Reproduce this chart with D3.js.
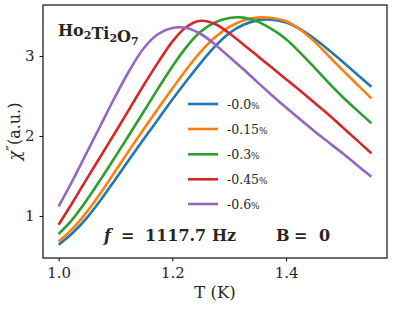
<!DOCTYPE html>
<html>
<head>
<meta charset="utf-8">
<script src="https://cdn.jsdelivr.net/npm/d3@7"></script>
<style>
  body { margin: 0; background: #fff; }
  svg text { font-family: "DejaVu Serif", "Liberation Serif", serif; fill: #262626; }
</style>
</head>
<body>
<div id="chart"></div>
<script>
// temperature grid (K)
const temps = [1.000, 1.025, 1.050, 1.075, 1.100, 1.125, 1.150, 1.175, 1.200, 1.225, 1.250, 1.275,
  1.300, 1.325, 1.350, 1.375, 1.400, 1.425, 1.450, 1.475, 1.500, 1.525, 1.550];

const strainLabels = ["-0.0", "-0.15", "-0.3", "-0.45", "-0.6"];
const colors = ["#1f77b4", "#ff7f0e", "#2ca02c", "#d62728", "#9467bd"];

// chi'' (a.u.)
const chi00 = [0.64, 0.79, 0.98, 1.21, 1.46, 1.715, 1.965, 2.21, 2.455, 2.69, 2.915, 3.12,
  3.285, 3.39, 3.445, 3.455, 3.42, 3.335, 3.215, 3.075, 2.925, 2.77, 2.615];
const chi15 = [0.68, 0.845, 1.055, 1.30, 1.565, 1.83, 2.09, 2.345, 2.595, 2.835, 3.055, 3.235,
  3.365, 3.445, 3.48, 3.475, 3.435, 3.33, 3.18, 3.00, 2.82, 2.645, 2.47];
const chi30 = [0.775, 0.965, 1.205, 1.47, 1.745, 2.025, 2.31, 2.595, 2.87, 3.115, 3.305, 3.42,
  3.475, 3.48, 3.43, 3.335, 3.21, 3.04, 2.855, 2.665, 2.485, 2.32, 2.16];
const chi45 = [0.89, 1.175, 1.47, 1.76, 2.05, 2.345, 2.64, 2.92, 3.18, 3.365, 3.44, 3.40,
  3.285, 3.145, 3.00, 2.855, 2.71, 2.565, 2.415, 2.265, 2.105, 1.945, 1.785];
const chi60 = [1.12, 1.45, 1.80, 2.15, 2.50, 2.825, 3.10, 3.275, 3.35, 3.35, 3.275, 3.145,
  2.99, 2.835, 2.67, 2.51, 2.355, 2.205, 2.06, 1.92, 1.78, 1.635, 1.49];

const xTicks = [1.0, 1.2, 1.4];
const yTicks = [1, 2, 3];

const series = [chi00, chi15, chi30, chi45, chi60];

const width = 394;
const height = 310;
const margin = { top: 5, right: 7, bottom: 52, left: 43 };

const svg = d3.select("#chart")
  .append("svg")
  .attr("width", width)
  .attr("height", height);

const x = d3.scaleLinear()
  .domain([0.9725, 1.5775])
  .range([margin.left, width - margin.right]);

const y = d3.scaleLinear()
  .domain([0.475, 3.6375])
  .range([height - margin.bottom, margin.top]);

const line = d3.line()
  .x(d => x(d[0]))
  .y(d => y(d[1]))
  .curve(d3.curveCatmullRom);

// curves
svg.append("g")
  .selectAll("path")
  .data(series)
  .enter()
  .append("path")
  .attr("d", s => line(temps.map((t, i) => [t, s[i]])))
  .attr("fill", "none")
  .attr("stroke", (s, i) => colors[i])
  .attr("stroke-width", 2.6)
  .attr("stroke-linejoin", "round");

// frame
svg.append("rect")
  .attr("x", margin.left)
  .attr("y", margin.top)
  .attr("width", width - margin.left - margin.right)
  .attr("height", height - margin.top - margin.bottom)
  .attr("fill", "none")
  .attr("stroke", "#1a1a1a")
  .attr("stroke-width", 1.25);

// axes
const xAxis = svg.append("g")
  .attr("transform", `translate(0, ${height - margin.bottom})`)
  .call(d3.axisBottom(x).tickValues(xTicks).tickFormat(d3.format(".1f")).tickSize(3.5).tickPadding(6));

const yAxis = svg.append("g")
  .attr("transform", `translate(${margin.left}, 0)`)
  .call(d3.axisLeft(y).tickValues(yTicks).tickFormat(d3.format("d")).tickSize(3.5).tickPadding(5));

[xAxis, yAxis].forEach(g => {
  g.select(".domain").remove();
  g.selectAll(".tick line").attr("stroke", "#1a1a1a").attr("stroke-width", 1.1);
  g.selectAll(".tick text")
    .attr("font-size", "15px")
    .attr("fill", "#262626");
});

// axis labels
svg.append("text")
  .attr("x", (margin.left + width - margin.right) / 2)
  .attr("y", 298)
  .attr("text-anchor", "middle")
  .attr("font-size", "16.5px")
  .text("T (K)");

const ylab = svg.append("text")
  .attr("transform", `translate(20, ${(margin.top + height - margin.bottom) / 2}) rotate(-90)`)
  .attr("text-anchor", "middle")
  .attr("font-size", "16px");
ylab.append("tspan").attr("font-style", "italic").text("χ");
ylab.append("tspan").attr("font-size", "15px").attr("dy", -3).text("″");
ylab.append("tspan").attr("dy", 3).text("(a.u.)");

// compound name
const title = svg.append("text")
  .attr("x", 58)
  .attr("y", 36)
  .attr("font-size", "16px")
  .attr("font-weight", "bold");
[["Ho", "2"], ["Ti", "2"], ["O", "7"]].forEach(p => {
  title.append("tspan").text(p[0]);
  title.append("tspan").attr("font-size", "11px").attr("dy", 3).text(p[1]);
  title.append("tspan").attr("dy", -3).text("");
});

// legend
const legY = [104, 129, 154.3, 179.3, 204];
const leg = svg.append("g")
  .selectAll("g")
  .data(strainLabels)
  .enter()
  .append("g")
  .attr("transform", (d, i) => `translate(188, ${legY[i]})`);

leg.append("line")
  .attr("x1", 0)
  .attr("x2", 30)
  .attr("stroke", (d, i) => colors[i])
  .attr("stroke-width", 2.6);

const legText = leg.append("text")
  .attr("x", 39)
  .attr("y", 4.5)
  .attr("font-size", "12.5px")
  .attr("fill", "#4a4a4a");
legText.append("tspan").text(d => d);
legText.append("tspan").attr("font-size", "9px").text("%");

// annotation
const ann = svg.append("text")
  .attr("y", 241)
  .attr("font-size", "16px")
  .attr("font-weight", "bold");
ann.append("tspan").attr("x", 104).attr("font-style", "italic").text("f");
ann.append("tspan").attr("x", 121).text("=");
ann.append("tspan").attr("x", 145).text("1117.7");
ann.append("tspan").attr("x", 212).text("Hz");

const ann2 = svg.append("text")
  .attr("y", 241)
  .attr("font-size", "16px")
  .attr("font-weight", "bold");
ann2.append("tspan").attr("x", 276).text("B");
ann2.append("tspan").attr("x", 294).text("=");
ann2.append("tspan").attr("x", 319).text("0");
</script>
</body>
</html>
